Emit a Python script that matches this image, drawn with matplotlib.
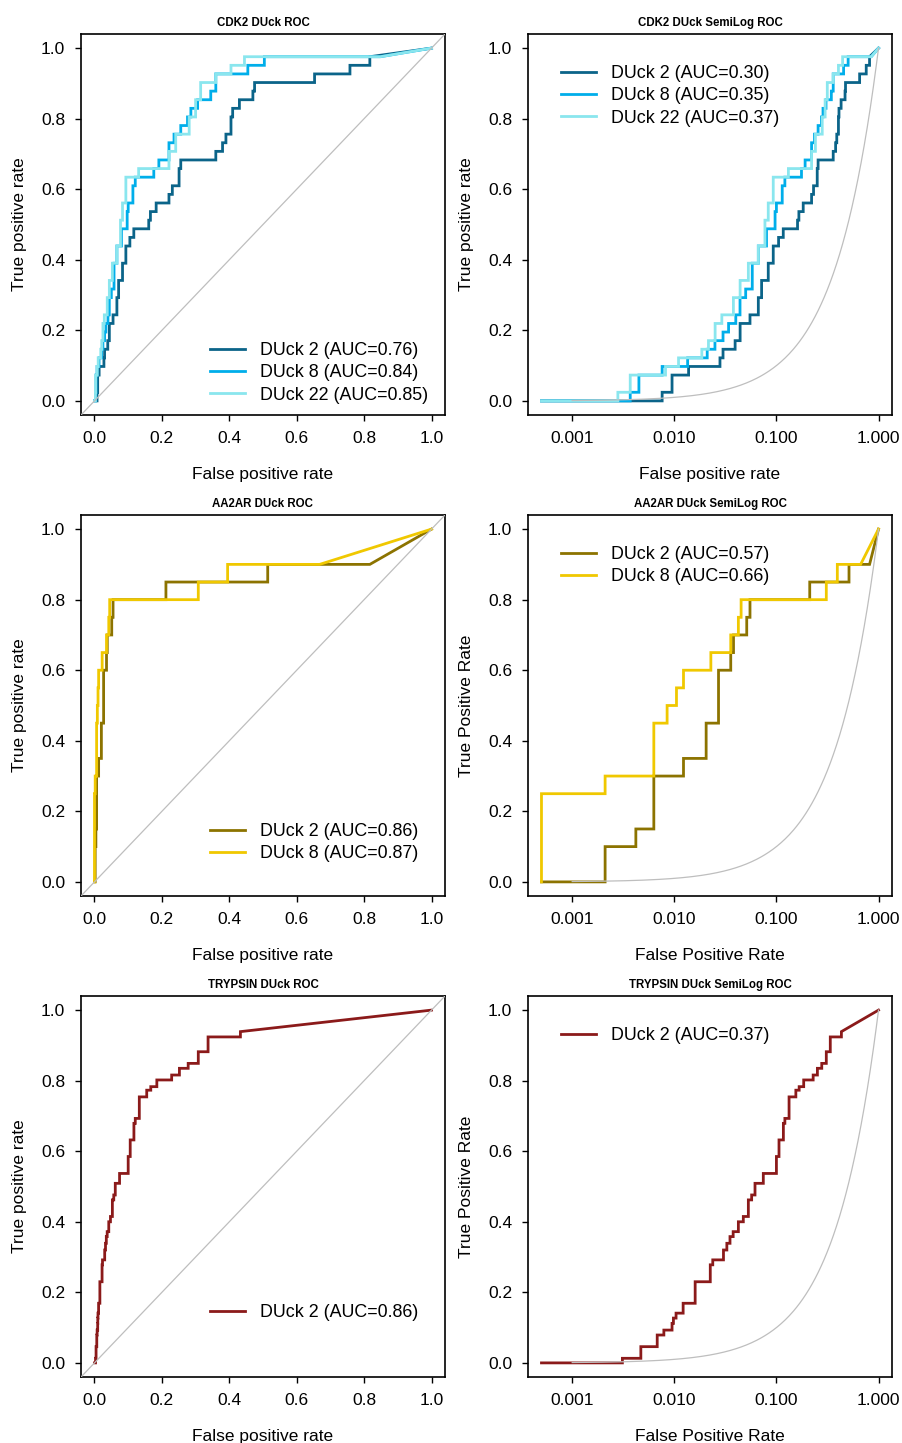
import numpy as np
import matplotlib
matplotlib.use("Agg")
import matplotlib.pyplot as plt

plt.rcParams['font.family'] = ['Liberation Sans', 'DejaVu Sans']

# ---- data (fpr, tpr at each step) ----
# CDK2: 41 actives, tpr given as hit counts
CDK2_N = 41
cdk2_d2_fpr = [0, 0.0076, 0.0095, 0.0138, 0.028, 0.030, 0.0394, 0.0441, 0.0551, 0.0665,
               0.0716, 0.0832, 0.0931, 0.105, 0.1167, 0.161, 0.166, 0.183, 0.221, 0.231,
               0.251, 0.256, 0.360, 0.380, 0.390, 0.405, 0.410, 0.430, 0.470, 0.475,
               0.653, 0.758, 0.817]
cdk2_d2_hits = [0, 1, 3, 4, 5, 6, 7, 9, 10, 12, 14, 16, 18, 19, 20, 21, 22, 23, 24, 25,
                27, 28, 29, 30, 31, 33, 34, 35, 36, 37, 38, 39, 40]
cdk2_d8_fpr = [0, 0.0037, 0.0045, 0.0076, 0.0135, 0.021, 0.025, 0.030, 0.034, 0.040,
               0.044, 0.050, 0.058, 0.0665, 0.080, 0.097, 0.100, 0.114, 0.121, 0.176,
               0.191, 0.221, 0.236, 0.256, 0.276, 0.286, 0.306, 0.345, 0.360, 0.455,
               0.504, 0.848]
cdk2_d8_hits = [0, 1, 3, 4, 5, 6, 7, 8, 9, 10, 12, 13, 16, 18, 20, 22, 23, 25, 26, 27,
                28, 30, 31, 32, 33, 34, 35, 36, 38, 39, 40, 40]
cdk2_d22_fpr = [0, 0.0028, 0.0037, 0.0082, 0.011, 0.0186, 0.0216, 0.0251, 0.0292, 0.0379,
                0.0441, 0.0531, 0.0665, 0.0772, 0.0832, 0.0931, 0.131, 0.221, 0.241, 0.281,
                0.300, 0.315, 0.360, 0.405, 0.445, 0.848]
cdk2_d22_hits = [0, 1, 3, 4, 5, 6, 7, 9, 10, 12, 14, 16, 18, 21, 23, 26, 27, 29, 31, 33,
                 35, 37, 38, 39, 40, 40]

aa2ar_d2_fpr = [0, 0.0021, 0.0042, 0.0063, 0.0123, 0.0205, 0.0271, 0.0357, 0.038, 0.0512,
                0.0551, 0.212, 0.514, 0.817]
aa2ar_d2_tpr = [0, 0.10, 0.15, 0.30, 0.35, 0.45, 0.60, 0.65, 0.70, 0.75, 0.80, 0.85, 0.90, 0.90]
aa2ar_d8_fpr = [0, 0, 0.0021, 0.0063, 0.0085, 0.0105, 0.0123, 0.0228, 0.0357, 0.0424,
                0.0451, 0.308, 0.395, 0.668]
aa2ar_d8_tpr = [0, 0.25, 0.30, 0.45, 0.50, 0.55, 0.60, 0.65, 0.70, 0.75, 0.80, 0.85, 0.90, 0.90]

tryp_d2_fpr = [0, 0.0031, 0.0047, 0.0068, 0.0079, 0.0095, 0.0098, 0.0104, 0.0122, 0.0160,
               0.0225, 0.0238, 0.0303, 0.0327, 0.0351, 0.0377, 0.0424, 0.0474, 0.0531, 0.0572,
               0.0617, 0.0744, 0.100, 0.106, 0.117, 0.121, 0.133, 0.155, 0.167, 0.185,
               0.229, 0.252, 0.278, 0.308, 0.337, 0.433]
tryp_d2_tpr = [0, 0.013, 0.046, 0.079, 0.093, 0.112, 0.127, 0.141, 0.169, 0.230,
               0.278, 0.292, 0.320, 0.339, 0.358, 0.372, 0.400, 0.415, 0.462, 0.476,
               0.509, 0.537, 0.585, 0.632, 0.679, 0.693, 0.754, 0.773, 0.783, 0.802,
               0.816, 0.835, 0.849, 0.882, 0.924, 0.939]

cdk2_lin_labels = ['DUck 2 (AUC=0.76)', 'DUck 8 (AUC=0.84)', 'DUck 22 (AUC=0.85)']
cdk2_log_labels = ['DUck 2 (AUC=0.30)', 'DUck 8 (AUC=0.35)', 'DUck 22 (AUC=0.37)']
aa2ar_lin_labels = ['DUck 2 (AUC=0.86)', 'DUck 8 (AUC=0.87)']
aa2ar_log_labels = ['DUck 2 (AUC=0.57)', 'DUck 8 (AUC=0.66)']
tryp_lin_labels = ['DUck 2 (AUC=0.86)']
tryp_log_labels = ['DUck 2 (AUC=0.37)']

cdk2_colors = ['#0b6489', '#00aeea', '#8ae6ee']
aa2ar_colors = ['#8c7300', '#f0c800']
tryp_colors = ['#8b1a1a']

FS = 12.5
LEG_FS = 12.9
W, H = 903, 1443


def stairs(fpr, tpr):
    xs = [fpr[0]]
    ys = [tpr[0]]
    for i in range(1, len(fpr)):
        xs += [fpr[i], fpr[i]]
        ys += [tpr[i - 1], tpr[i]]
    xs.append(1.0)
    ys.append(1.0)
    return np.array(xs), np.array(ys)


def draw(ax, curves, colors, labels, title, semilog, xlab, ylab):
    for (f, t), c, lab in zip(curves, colors, labels):
        x, y = stairs(f, t)
        if semilog:
            x = np.maximum(x, 5e-4)
        ax.plot(x, y, color=c, lw=2.0, label=lab, solid_joinstyle='miter')
    legkw = dict(frameon=False, fontsize=LEG_FS, handlelength=1.95, handletextpad=0.85,
                 labelspacing=0.3, borderpad=0, borderaxespad=0, loc='upper left')
    if semilog:
        ax.set_xscale('log')
        g = np.logspace(-3, 0, 300)
        ax.plot(g, g, color='#bebebe', lw=0.9, zorder=5)
        lo = -3.301
        ax.set_xlim(10 ** (lo - 0.04 * (-lo)), 10 ** (0.04 * (-lo)))
        ax.set_xticks([0.001, 0.01, 0.1, 1.0])
        ax.set_xticklabels(['0.001', '0.010', '0.100', '1.000'])
        ax.minorticks_off()
        ax.legend(bbox_to_anchor=((561 - 528) / 364, (415 - 65) / 381), **legkw)
    else:
        ax.axline((0, 0), (1, 1), color='#bebebe', lw=0.9, zorder=5)
        ax.set_xlim(-0.04, 1.04)
        ax.set_xticks([0, 0.2, 0.4, 0.6, 0.8, 1.0])
        ax.set_xticklabels(['0.0', '0.2', '0.4', '0.6', '0.8', '1.0'])
        ax.legend(bbox_to_anchor=((210 - 81) / 364, (415 - 342) / 381), **legkw)
    ax.set_ylim(-0.04, 1.04)
    ax.set_yticks([0, 0.2, 0.4, 0.6, 0.8, 1.0])
    ax.set_yticklabels(['0.0', '0.2', '0.4', '0.6', '0.8', '1.0'])
    ax.tick_params(direction='out', length=4.5, width=1.0, labelsize=FS)
    ax.tick_params(axis='x', pad=7)
    ax.tick_params(axis='y', pad=7)
    for s in ax.spines.values():
        s.set_linewidth(1.2)
    ax.set_title(title, fontsize=8.3, fontweight='bold', pad=6)
    ax.set_xlabel(xlab, fontsize=FS, labelpad=15)
    ax.set_ylabel(ylab, fontsize=FS, labelpad=10)


fig = plt.figure(figsize=(W / 100, H / 100), dpi=100)

lefts = [81, 528]
tops = [34, 515, 996]
aw, ah = 364, 381

cdk2 = [(cdk2_d2_fpr, np.array(cdk2_d2_hits) / CDK2_N),
        (cdk2_d8_fpr, np.array(cdk2_d8_hits) / CDK2_N),
        (cdk2_d22_fpr, np.array(cdk2_d22_hits) / CDK2_N)]
aa2ar = [(aa2ar_d2_fpr, aa2ar_d2_tpr), (aa2ar_d8_fpr, aa2ar_d8_tpr)]
tryp = [(tryp_d2_fpr, tryp_d2_tpr)]

panels = [
    (cdk2, cdk2_colors, cdk2_lin_labels, 'CDK2 DUck ROC', False,
     'False positive rate', 'True positive rate'),
    (cdk2, cdk2_colors, cdk2_log_labels, 'CDK2 DUck SemiLog ROC', True,
     'False positive rate', 'True positive rate'),
    (aa2ar, aa2ar_colors, aa2ar_lin_labels, 'AA2AR DUck ROC', False,
     'False positive rate', 'True positive rate'),
    (aa2ar, aa2ar_colors, aa2ar_log_labels, 'AA2AR DUck SemiLog ROC', True,
     'False Positive Rate', 'True Positive Rate'),
    (tryp, tryp_colors, tryp_lin_labels, 'TRYPSIN DUck ROC', False,
     'False positive rate', 'True positive rate'),
    (tryp, tryp_colors, tryp_log_labels, 'TRYPSIN DUck SemiLog ROC', True,
     'False Positive Rate', 'True Positive Rate'),
]

for i, p in enumerate(panels):
    r, c = divmod(i, 2)
    ax = fig.add_axes([lefts[c] / W, 1 - (tops[r] + ah) / H, aw / W, ah / H])
    draw(ax, *p)

fig.savefig('out.png', dpi=100)
